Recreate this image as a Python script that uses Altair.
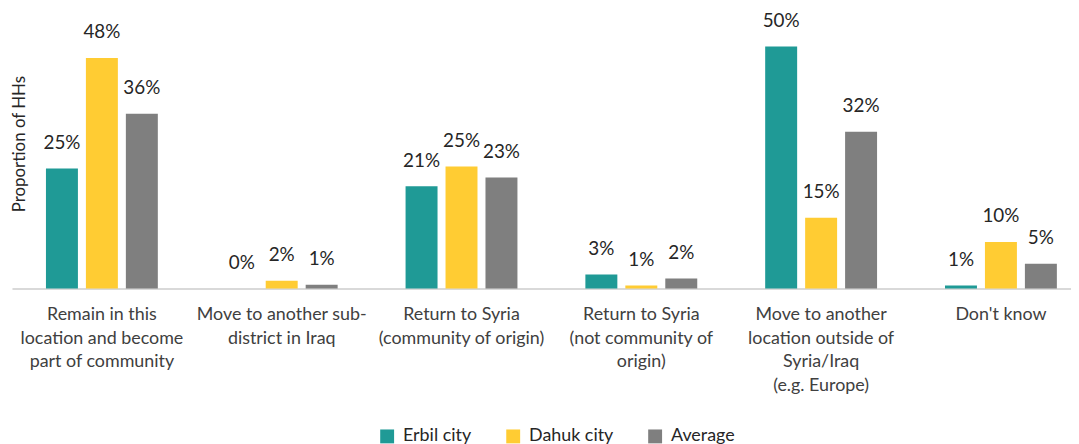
import altair as alt
import pandas as pd

categories = [
    "Remain in this|location and become|part of community",
    "Move to another sub-|district in Iraq",
    "Return to Syria|(community of origin)",
    "Return to Syria|(not community of|origin)",
    "Move to another|location outside of|Syria/Iraq|(e.g. Europe)",
    "Don't know",
]
series = ["Erbil city", "Dahuk city", "Average"]
erbil = [0.248, 0.0, 0.211, 0.029, 0.50, 0.006]
dahuk = [0.476, 0.016, 0.252, 0.006, 0.146, 0.096]
average = [0.361, 0.008, 0.2295, 0.0205, 0.324, 0.051]
colors = ["#1F9A96", "#FFCC33", "#7F7F7F"]

rows = []
for s, vals in zip(series, [erbil, dahuk, average]):
    for c, v in zip(categories, vals):
        rows.append({"category": c, "series": s, "value": v})
df = pd.DataFrame(rows)

FONT = "Lato"

x_enc = alt.X(
    "category:N",
    sort=categories,
    scale=alt.Scale(range=[0, 1087], paddingInner=0.3778, paddingOuter=0.189),
    axis=alt.Axis(
        title=None,
        labelExpr="split(datum.label, '|')",
        labelAngle=0,
        labelFontSize=18,
        labelLineHeight=24,
        labelColor="#404040",
        labelFont=FONT,
        labelPadding=17,
        ticks=False,
        domainColor="#D9D9D9",
        domainWidth=2,
        labelLimit=300,
    ),
)
xoff = alt.XOffset("series:N", sort=series, scale=alt.Scale(paddingInner=0.2))
y_enc = alt.Y(
    "value:Q",
    scale=alt.Scale(domain=[0, 0.574], nice=False),
    axis=alt.Axis(
        title="Proportion of HHs",
        labels=False,
        ticks=False,
        domain=False,
        grid=False,
        titleX=8,
        titleY=134,
        titleAngle=270,
        titleAlign="center",
        titleBaseline="middle",
        titleFontSize=17,
        titleFontWeight="normal",
        titleColor="#262626",
        titleFont=FONT,
    ),
)
color_enc = alt.Color(
    "series:N",
    sort=series,
    scale=alt.Scale(domain=series, range=colors),
    legend=alt.Legend(
        title=None,
        orient="none",
        direction="horizontal",
        legendX=369,
        legendY=420,
        symbolType="square",
        symbolSize=196,
        symbolStrokeWidth=0,
        labelFontSize=18,
        labelFont=FONT,
        labelColor="#262626",
        labelOffset=7,
        columnPadding=33,
    ),
)

bars = alt.Chart(df).mark_bar().encode(x=x_enc, xOffset=xoff, y=y_enc, color=color_enc)
labels = alt.Chart(df).mark_text(
    baseline="alphabetic", dy=-20, fontSize=19, font=FONT, color="#262626"
).encode(
    x=x_enc,
    xOffset=xoff,
    y=alt.Y("value:Q"),
    text=alt.Text("value:Q", format=".0%"),
)

chart = (
    alt.layer(bars, labels)
    .properties(
        width=1067,
        height=280,
        autosize=alt.AutoSizeParams(type="none"),
        padding={"left": 4, "top": 1, "right": 0, "bottom": 155},
    )
    .configure_view(stroke=None)
)

chart.save("out.html", embed_options={"renderer": "svg", "actions": False})
